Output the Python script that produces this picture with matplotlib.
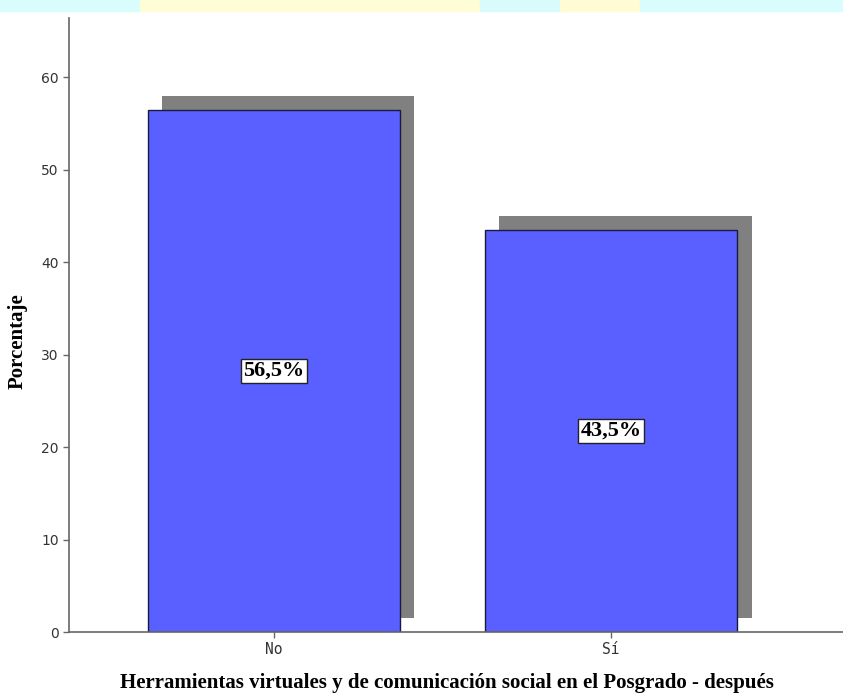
import matplotlib
matplotlib.use('Agg')
import matplotlib.pyplot as plt
import matplotlib.patheffects as pe
from matplotlib.patches import Rectangle

categories = ['No', 'Sí']
porcentajes = [56.5, 43.5]
etiquetas = ['56,5%', '43,5%']

BAR_COLOR = '#5a5fff'
SHADOW = '#808080'
AXIS = '#666666'

fig = plt.figure(figsize=(8.43, 6.95), dpi=100)
ax = fig.add_axes([69/843, 1-632/695, 1-69/843, (632-18)/695])

# banda de la página de fondo (arriba)
for x0, x1, c in [(0, 140, '#d9fdfd'), (140, 480, '#fffdd6'), (480, 560, '#d9fbfb'),
                  (560, 640, '#fffbd2'), (640, 843, '#d9fdfd')]:
    fig.patches.append(Rectangle((x0/843, 1-11/695), (x1-x0)/843, 11/695,
                                 transform=fig.transFigure, color=c, zorder=0))

x = range(len(categories))
bars = ax.bar(x, porcentajes, width=0.75, color=BAR_COLOR, edgecolor='#1a1a3a', linewidth=1.0)
for b in bars:
    b.set_path_effects([pe.SimplePatchShadow(offset=(10.1, 10.1), shadow_rgbFace=SHADOW, alpha=1.0),
                        pe.Normal()])

for xi, v, t in zip(x, porcentajes, etiquetas):
    ax.text(xi, v/2, t, ha='center', va='center', fontsize=16, fontweight='bold',
            family='Liberation Serif',
            bbox=dict(boxstyle='square,pad=0.1', facecolor='white', edgecolor='#222222', linewidth=1))

ax.set_xlim(-0.608, 1.688)
ax.set_ylim(0, 66.4)
ax.set_yticks([0, 10, 20, 30, 40, 50, 60])
ax.set_xticks(list(x))
ax.set_xticklabels(categories, family='DejaVu Sans Mono', fontsize=10.5)

for s in ['top', 'right']:
    ax.spines[s].set_visible(False)
for s in ['left', 'bottom']:
    ax.spines[s].set_color(AXIS)
    ax.spines[s].set_linewidth(1.2)
ax.tick_params(colors=AXIS, length=4, width=1, labelcolor='#333333')
ax.tick_params(axis='y', labelsize=10)

ax.set_ylabel('Porcentaje', family='Liberation Serif', fontweight='bold', fontsize=15)
ax.yaxis.set_label_coords(-(69-28)/(843-69), (632-341)/(632-18))
ax.set_xlabel('Herramientas virtuales y de comunicación social en el Posgrado - después',
              family='Liberation Serif', fontweight='bold', fontsize=15)
ax.xaxis.set_label_coords((447-69)/(843-69), -(673-632)/(632-18))

fig.savefig('out.png', dpi=100)
